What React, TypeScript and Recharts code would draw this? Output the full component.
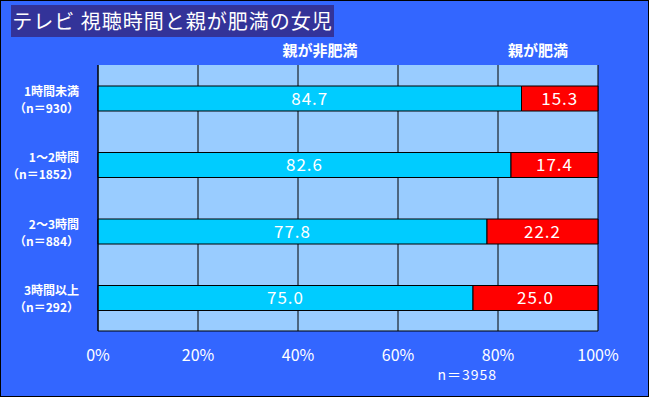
import React from 'react';
import { BarChart, Bar, XAxis, YAxis, CartesianGrid, LabelList } from 'recharts';

const categories = ['1時間未満', '1～2時間', '2～3時間', '3時間以上'];
const counts = ['（n＝930）', '（n＝1852）', '（n＝884）', '（n＝292）'];
const nonObese = [84.7, 82.6, 77.8, 75.0];
const obese = [15.3, 17.4, 22.2, 25.0];
const xTicks = [0, 20, 40, 60, 80, 100];

const FONT = '"Noto Sans CJK JP", "Noto Sans", sans-serif';

const data = categories.map((name, i) => ({
   name,
   count: counts[i],
   nonObese: nonObese[i],
   obese: obese[i],
}));

// two-line category label, right aligned next to the axis
const CategoryTick = (props: any) => {
   const { x, y, payload, index } = props;
   return (
      <g>
         <text x={x - 11} y={y - 8} textAnchor="end" dominantBaseline="central" fill="#fff" fontSize={12} fontWeight="bold" fontFamily={FONT}>
            {payload.value}
         </text>
         <text x={x - 11} y={y + 9} textAnchor="end" dominantBaseline="central" fill="#fff" fontSize={12} fontWeight="bold" fontFamily={FONT}>
            {counts[index]}
         </text>
      </g>
   );
};

export default function App() {
   return (
      <div style={{ position: 'fixed', left: 0, top: 0, width: 649, height: 397, background: '#3366FF', fontFamily: FONT }}>
         <BarChart
            width={649}
            height={397}
            data={data}
            layout="vertical"
            margin={{ top: 65, right: 51, left: 0, bottom: 26 }}
            barSize={25}
         >
            <CartesianGrid horizontal={false} stroke="#000" fill="#99CCFF" fillOpacity={1} />
            <XAxis
               type="number"
               domain={[0, 100]}
               ticks={xTicks}
               tickFormatter={(v: number) => `${v}%`}
               axisLine={{ stroke: '#000' }}
               tickLine={false}
               tickSize={0}
               tickMargin={19}
               height={40}
               tick={{ fill: '#fff', fontSize: 16, fontFamily: FONT }}
            />
            <XAxis
               xAxisId="top"
               orientation="top"
               type="number"
               domain={[0, 100]}
               tick={false}
               tickLine={false}
               height={0}
               axisLine={{ stroke: '#808080' }}
            />
            <YAxis
               type="category"
               dataKey="name"
               width={98}
               axisLine={{ stroke: '#000' }}
               tickLine={false}
               tick={<CategoryTick />}
            />
            <YAxis
               yAxisId="right"
               orientation="right"
               type="category"
               dataKey="name"
               width={0}
               tick={false}
               tickLine={false}
               axisLine={{ stroke: '#808080' }}
            />
            <Bar dataKey="nonObese" stackId="a" fill="#00CCFF" stroke="#000" strokeWidth={1} isAnimationActive={false}>
               <LabelList dataKey="nonObese" position="center" fill="#fff" fontSize={17} letterSpacing={1} fontFamily={FONT} formatter={(v: any) => Number(v).toFixed(1)} />
            </Bar>
            <Bar dataKey="obese" stackId="a" fill="#FF0000" stroke="#000" strokeWidth={1} isAnimationActive={false}>
               <LabelList dataKey="obese" position="center" fill="#fff" fontSize={17} letterSpacing={1} fontFamily={FONT} formatter={(v: any) => Number(v).toFixed(1)} />
            </Bar>
         </BarChart>

         {/* title box */}
         <div style={{ position: 'absolute', left: 11, top: 5, width: 323, height: 32, background: '#333399', color: '#fff', fontSize: 20, letterSpacing: 1, lineHeight: '32px', textAlign: 'center', whiteSpace: 'nowrap' }}>
            テレビ 視聴時間と親が肥満の女児
         </div>

         {/* series names above the plot */}
         <div style={{ position: 'absolute', left: 270, top: 41, width: 100, textAlign: 'center', color: '#fff', fontSize: 15, fontWeight: 'bold', lineHeight: '18px' }}>
            親が非肥満
         </div>
         <div style={{ position: 'absolute', left: 488, top: 41, width: 100, textAlign: 'center', color: '#fff', fontSize: 15, fontWeight: 'bold', lineHeight: '18px' }}>
            親が肥満
         </div>

         <div style={{ position: 'absolute', left: 397, top: 366, width: 100, textAlign: 'right', color: '#fff', fontSize: 14, letterSpacing: 1, lineHeight: '16px' }}>
            n＝3958
         </div>

         <div style={{ position: 'absolute', left: 0, top: 0, width: 649, height: 397, boxSizing: 'border-box', border: '1px solid #000', pointerEvents: 'none' }} />
      </div>
   );
}
